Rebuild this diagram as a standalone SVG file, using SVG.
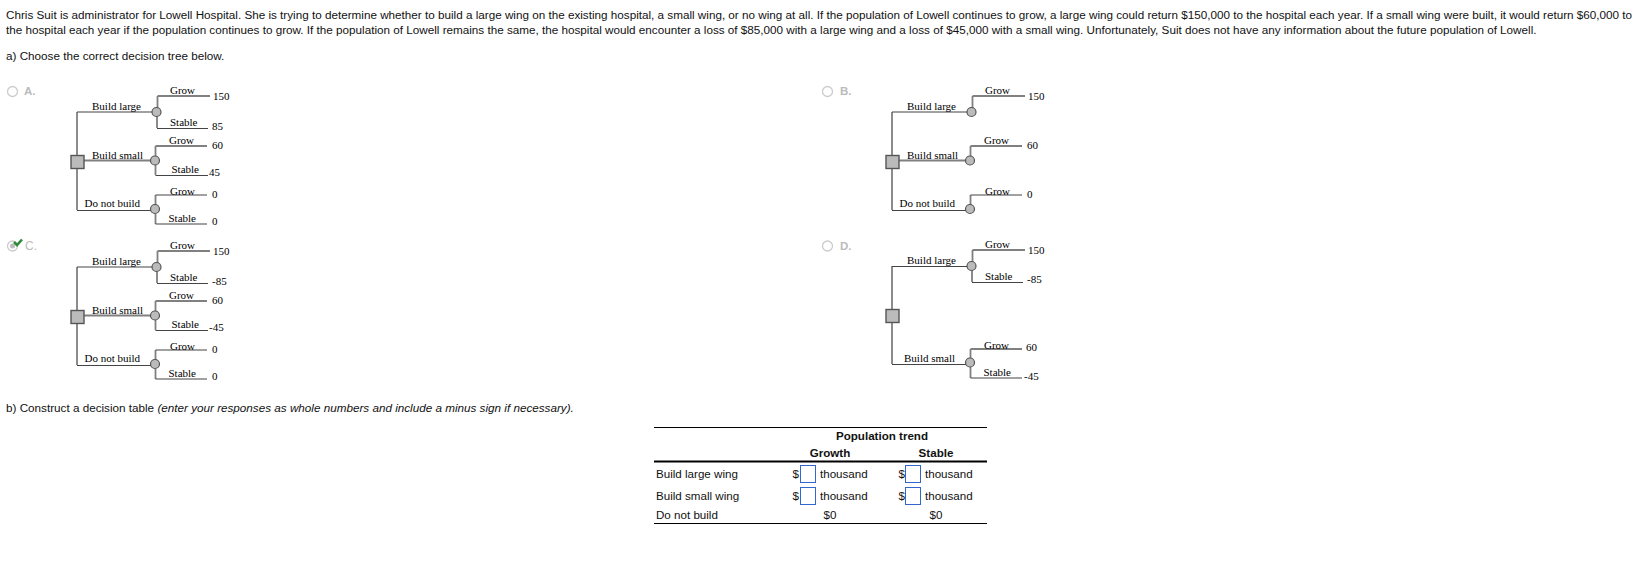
<svg xmlns="http://www.w3.org/2000/svg" width="1643" height="569" viewBox="0 0 1643 569">
<style>
text{font-family:"Liberation Sans",Arial,sans-serif;font-size:11.6px;fill:#111}
#question text{font-size:11.7px}
.t text{font-family:"Liberation Serif","Times New Roman",serif;font-size:11px;fill:#000}
.g{fill:none;stroke:#808080;stroke-width:1.8}
.k{fill:none;stroke:#444;stroke-width:1.2}
.sq{fill:#bbb;stroke:#555;stroke-width:1.4}
.ci{fill:#bbb;stroke:#555;stroke-width:1.2}
.opt{fill:#bbb;font-weight:bold;font-size:11.5px}
.rad{fill:#fff;stroke:#ccc;stroke-width:1.3}
.b{font-weight:bold}
.m{text-anchor:middle}
.in{fill:#fff;stroke:#3366cc;stroke-width:1}
.rule{stroke:#000;stroke-width:1}
</style>
<rect width="1643" height="569" fill="#fff"/>
<g id="question">
<text x="6" y="19">Chris Suit is administrator for Lowell Hospital. She is trying to determine whether to build a large wing on the existing hospital, a small wing, or no wing at all. If the population of Lowell continues to grow, a large wing could return $150,000 to the hospital each year. If a small wing were built, it would return $60,000 to</text>
<text x="6" y="34">the hospital each year if the population continues to grow. If the population of Lowell remains the same, the hospital would encounter a loss of $85,000 with a large wing and a loss of $45,000 with a small wing. Unfortunately, Suit does not have any information about the future population of Lowell.</text>
<text x="6" y="60">a) Choose the correct decision tree below.</text>
<text x="6" y="412">b) Construct a decision table <tspan font-style="italic">(enter your responses as whole numbers and include a minus sign if necessary).</tspan></text>
</g>
<g id="options">
<circle class="rad" cx="12.500" cy="91.500" r="5"/><text class="opt" x="24" y="95">A.</text>
<circle class="rad" cx="827.500" cy="91.500" r="5"/><text class="opt" x="840" y="95">B.</text>
<circle class="rad" cx="12.500" cy="246" r="5"/><circle cx="12.500" cy="246" r="2.500" fill="#bbb"/><path d="M14 242 L17 245 L22 239.500" fill="none" stroke="#2e8b3a" stroke-width="2.600"/><text class="opt" x="25" y="250" style="font-weight:normal;font-size:12px">C.</text>
<circle class="rad" cx="827.500" cy="246" r="5"/><text class="opt" x="840" y="250">D.</text>
</g>
<g id="tree-a">
<g class="connectors"><path class="g" d="M77 156V112M77 169V210M84 160.500H151M157.500 108V96M157 116V128M155.500 156V146M155.500 165V175M155.500 205V195M155.500 214V224M157.500 96H210M155.500 146H207"/><path class="k" d="M77 112H153M77 210.500H152M157 128.500H208M155.500 175.500H208M155.500 195H207M155.500 224H207"/></g>
<g id="a-decision"><rect class="sq" x="71" y="155.500" width="13" height="13"/></g>
<g id="a-chance-large"><circle class="ci" cx="156.500" cy="112" r="4.500"/></g>
<g id="a-chance-small"><circle class="ci" cx="155" cy="160.500" r="4.500"/></g>
<g id="a-chance-none"><circle class="ci" cx="155" cy="209" r="4.500"/></g>
<g class="t"><text x="92" y="110">Build large</text><text x="92" y="159">Build small</text><text x="84.500" y="207">Do not build</text><text x="170" y="94">Grow</text><text x="213" y="100">150</text><text x="170" y="126">Stable</text><text x="212" y="130">85</text><text x="169" y="144">Grow</text><text x="212" y="149">60</text><text x="171.500" y="173">Stable</text><text x="209" y="176">45</text><text x="170" y="195">Grow</text><text x="212" y="198">0</text><text x="168.500" y="222">Stable</text><text x="212" y="225">0</text></g>
</g>
<g id="tree-b" transform="translate(815 0)">
<g class="connectors"><path class="g" d="M77 156V112M77 169V210M84 160.500H151M157.500 108V96M155.500 156V146M155.500 205V195M157.500 96H210M155.500 146H207"/><path class="k" d="M77 112H153M77 210.500H152M155.500 195H207"/></g>
<g id="b-decision"><rect class="sq" x="71" y="155.500" width="13" height="13"/></g>
<g id="b-chance-large"><circle class="ci" cx="156.500" cy="112" r="4.500"/></g>
<g id="b-chance-small"><circle class="ci" cx="155" cy="160.500" r="4.500"/></g>
<g id="b-chance-none"><circle class="ci" cx="155" cy="209" r="4.500"/></g>
<g class="t"><text x="92" y="110">Build large</text><text x="92" y="159">Build small</text><text x="84.500" y="207">Do not build</text><text x="170" y="94">Grow</text><text x="213" y="100">150</text><text x="169" y="144">Grow</text><text x="212" y="149">60</text><text x="170" y="195">Grow</text><text x="212" y="198">0</text></g>
</g>
<g id="tree-c" transform="translate(0 155)">
<g class="connectors"><path class="g" d="M77 156V112M77 169V210M84 160.500H151M157.500 108V96M157 116V128M155.500 156V146M155.500 165V175M155.500 205V195M155.500 214V224M157.500 96H210M155.500 146H207"/><path class="k" d="M77 112H153M77 210.500H152M157 128.500H208M155.500 175.500H208M155.500 195H207M155.500 224H207"/></g>
<g id="c-decision"><rect class="sq" x="71" y="155.500" width="13" height="13"/></g>
<g id="c-chance-large"><circle class="ci" cx="156.500" cy="112" r="4.500"/></g>
<g id="c-chance-small"><circle class="ci" cx="155" cy="160.500" r="4.500"/></g>
<g id="c-chance-none"><circle class="ci" cx="155" cy="209" r="4.500"/></g>
<g class="t"><text x="92" y="110">Build large</text><text x="92" y="159">Build small</text><text x="84.500" y="207">Do not build</text><text x="170" y="94">Grow</text><text x="213" y="100">150</text><text x="170" y="126">Stable</text><text x="212" y="130">-85</text><text x="169" y="144">Grow</text><text x="212" y="149">60</text><text x="171.500" y="173">Stable</text><text x="209" y="176">-45</text><text x="170" y="195">Grow</text><text x="212" y="198">0</text><text x="168.500" y="222">Stable</text><text x="212" y="225">0</text></g>
</g>
<g id="tree-d">
<g class="connectors"><path class="g" d="M892 310V266M892 323V364M972.500 262V250M972 270V282M970.500 358V349M970.500 367V378M972.500 250H1025M970.500 349H1022"/><path class="k" d="M892 266.500H968M892 364.500H967M972 282.500H1023M970.500 378H1022"/></g>
<g id="d-decision"><rect class="sq" x="886" y="309.500" width="13" height="13"/></g>
<g id="d-chance-large"><circle class="ci" cx="971.500" cy="266" r="4.500"/></g>
<g id="d-chance-small"><circle class="ci" cx="970" cy="362.500" r="4.500"/></g>
<g class="t"><text x="907" y="264">Build large</text><text x="904" y="362">Build small</text><text x="985" y="248">Grow</text><text x="1028" y="254">150</text><text x="985" y="280">Stable</text><text x="1027" y="283">-85</text><text x="984" y="349">Grow</text><text x="1026" y="351">60</text><text x="983.500" y="376">Stable</text><text x="1024" y="380">-45</text></g>
</g>
<g id="decision-table">
<line class="rule" x1="654" y1="427.500" x2="987" y2="427.500"/>
<line x1="654" y1="461.500" x2="987" y2="461.500" stroke="#000" stroke-width="2"/>
<line class="rule" x1="654" y1="523.500" x2="987" y2="523.500"/>
<text class="b m" x="882" y="440">Population trend</text>
<text class="b m" x="830" y="457">Growth</text>
<text class="b m" x="936" y="457">Stable</text>
<text x="656" y="478">Build large wing</text>
<text x="656" y="500">Build small wing</text>
<text x="656" y="519">Do not build</text>
<text x="792.500" y="478">$</text><rect class="in" x="800.500" y="465.500" width="15" height="17"/><text x="820" y="478">thousand</text>
<text x="898.500" y="478">$</text><rect class="in" x="905.500" y="465.500" width="15" height="17"/><text x="925" y="478">thousand</text>
<text x="792.500" y="500">$</text><rect class="in" x="800.500" y="487.500" width="15" height="17"/><text x="820" y="500">thousand</text>
<text x="898.500" y="500">$</text><rect class="in" x="905.500" y="487.500" width="15" height="17"/><text x="925" y="500">thousand</text>
<text class="m" x="830" y="519">$0</text>
<text class="m" x="936" y="519">$0</text>
</g>
</svg>
